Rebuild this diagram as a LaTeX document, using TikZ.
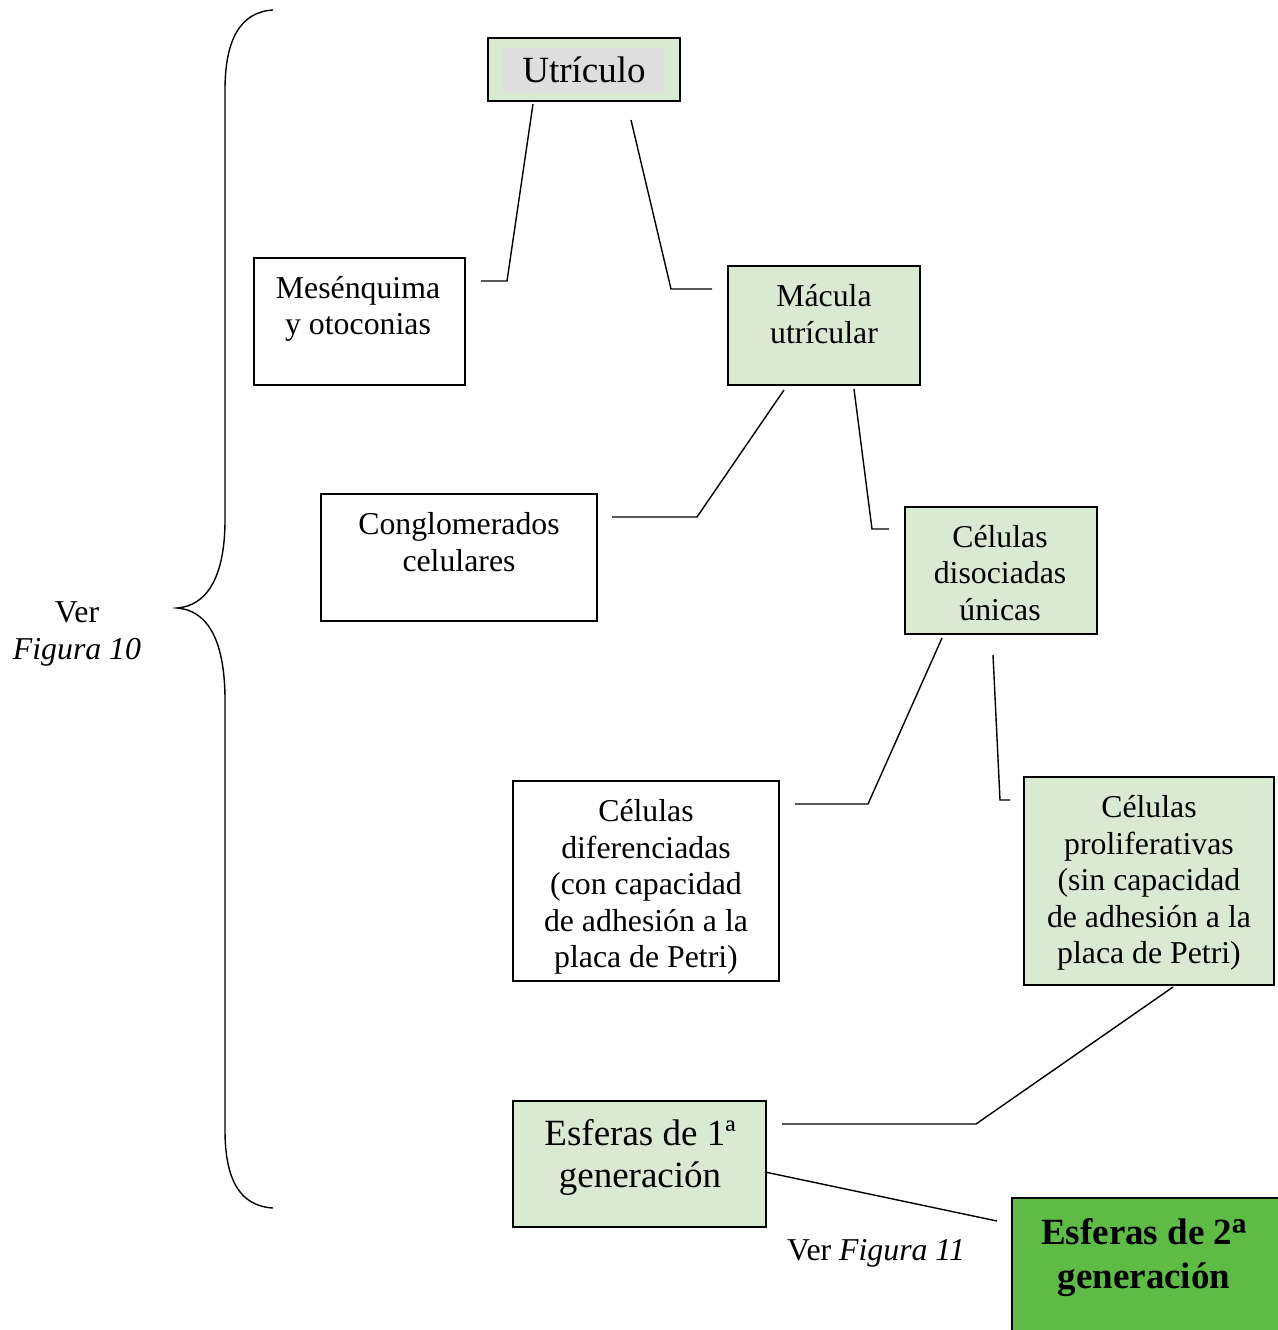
\documentclass[tikz,border=0pt]{standalone}
\usepackage{fontspec}
\setmainfont{Liberation Serif}
\definecolor{lgreen}{HTML}{DAEAD2}
\definecolor{bgreen}{HTML}{5DBB46}
\definecolor{lgrey}{HTML}{DEDEDE}
\newcommand{\ordsupb}{{\fontsize{48}{48}\bfseries\selectfont\smash{\raisebox{-0.14em}{ª}}}}
\begin{document}
\begin{tikzpicture}[x=1pt,y=-1pt,
  box/.style={draw=black,line width=1.5pt,rectangle,inner sep=0pt},
  gbox/.style={box,fill=lgreen},
  txt/.style={align=center,inner sep=0pt,font=\fontsize{31.8}{36.5}\selectfont},
  bigtxt/.style={align=center,inner sep=0pt,font=\fontsize{37}{42}\selectfont},
  conn/.style={draw=black,line width=1.4pt}]
\useasboundingbox (0,0) rectangle (1277,1330);
\fill[white] (0,0) rectangle (1277,1330);
% boxes
\node[gbox,minimum width=192pt,minimum height=63pt] (utr) at (584,69.5) {};
\node[fill=lgrey,minimum width=161pt,minimum height=45pt,inner sep=0pt] (utrin) at (583.5,70.5) {};
\node[bigtxt] (utrt) at (584,70) {Utrículo};
\node[box,minimum width=211pt,minimum height=127pt] (mes) at (359.5,321.5) {};
\node[txt] (mest) at (358,309) {Mesénquima\\y otoconias};
\node[gbox,minimum width=192pt,minimum height=119pt] (mac) at (824,325.5) {};
\node[txt] (mact) at (824,314) {Mácula\\utrícular};
\node[box,minimum width=276pt,minimum height=127pt] (con) at (459,557.5) {};
\node[txt] (cont) at (459,542) {Conglomerados\\celulares};
\node[gbox,minimum width=192pt,minimum height=127pt] (dis) at (1001,570.5) {};
\node[txt] (dist) at (1000,573) {Células\\disociadas\\únicas};
\node[box,minimum width=266pt,minimum height=200pt] (dif) at (646,881) {};
\node[txt] (dift) at (646,887) {Células\\diferenciadas\\(con capacidad\\de adhesión a la\\placa de Petri)};
\node[gbox,minimum width=250pt,minimum height=208pt] (pro) at (1149,881) {};
\node[txt] (prot) at (1149,883) {Células\\proliferativas\\(sin capacidad\\de adhesión a la\\placa de Petri)};
\node[gbox,minimum width=253pt,minimum height=126pt] (es1) at (639.5,1164) {};
\node[bigtxt] (es1t) at (640,1157) {Esferas de 1ª\\generación};
\node[box,fill=bgreen,minimum width=268pt,minimum height=140pt] (es2) at (1146,1268) {};
\node[bigtxt,font=\fontsize{37}{44}\bfseries\selectfont] (es2t) at (1144,1258) {Esferas de 2\ordsupb\\generación};
% labels
\node[txt] (ver10) at (77,634) {Ver\\\textit{Figura 10}};
\node[txt] (ver11) at (876,1253) {Ver \textit{Figura 11}};
% connector ends
\coordinate (a1) at (533,104); \coordinate (a2) at (507,281); \coordinate (a3) at (481,281);
\coordinate (b1) at (631,120); \coordinate (b2) at (671,289); \coordinate (b3) at (712,289);
\coordinate (c1) at (784,390); \coordinate (c2) at (697,517); \coordinate (c3) at (612,517);
\coordinate (d1) at (854,389); \coordinate (d2) at (872,529); \coordinate (d3) at (889,529);
\coordinate (e1) at (942,638); \coordinate (e2) at (868,804); \coordinate (e3) at (795,804);
\coordinate (f1) at (993,655); \coordinate (f2) at (1000,800); \coordinate (f3) at (1010,800);
\coordinate (g1) at (1173,987); \coordinate (g2) at (976,1124); \coordinate (g3) at (782,1124);
\coordinate (h1) at (765,1172); \coordinate (h2) at (997,1221);
\draw[conn] (a1) -- (a2) -- (a3);
\draw[conn] (b1) -- (b2) -- (b3);
\draw[conn] (c1) -- (c2) -- (c3);
\draw[conn] (d1) -- (d2) -- (d3);
\draw[conn] (e1) -- (e2) -- (e3);
\draw[conn] (f1) -- (f2) -- (f3);
\draw[conn] (g1) -- (g2) -- (g3);
\draw[conn] (h1) -- (h2);
% brace
\coordinate (br1) at (273,10); \coordinate (br2) at (177,608); \coordinate (br3) at (273,1208);
\draw[line width=1.4pt] (br1) .. controls (240,12) and (225,40) .. (225,90)
  -- (225,520) .. controls (225,580) and (205,606) .. (br2)
  .. controls (205,610) and (225,636) .. (225,700)
  -- (225,1130) .. controls (225,1180) and (240,1206) .. (br3);
\end{tikzpicture}
\end{document}
